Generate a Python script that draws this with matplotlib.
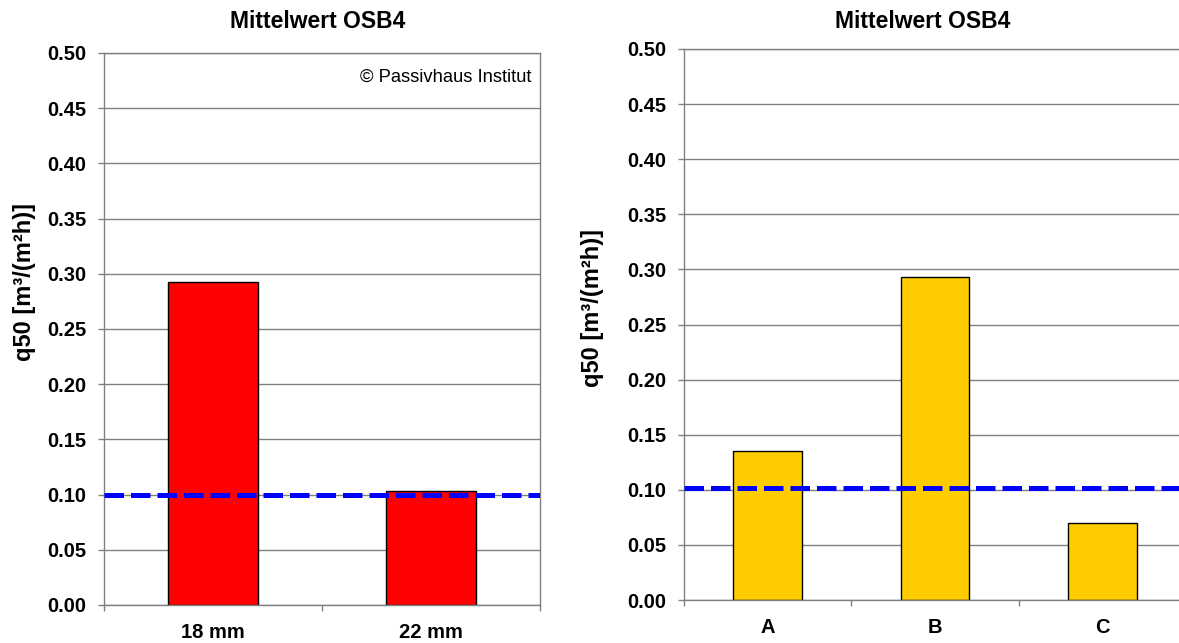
import matplotlib
matplotlib.use("Agg")
import matplotlib.pyplot as plt
import numpy as np

plt.rcParams["font.family"] = ["Liberation Sans", "DejaVu Sans"]

# data
title = "Mittelwert OSB4"
ylabel = "q50 [m³/(m²h)]"
left_cats = ["18 mm", "22 mm"]
left_vals = [0.293, 0.103]
left_ref = 0.100
right_cats = ["A", "B", "C"]
right_vals = [0.135, 0.293, 0.070]
right_ref = 0.1015
yticks = [0.00, 0.05, 0.10, 0.15, 0.20, 0.25, 0.30, 0.35, 0.40, 0.45, 0.50]

W, H = 1179, 643
fig = plt.figure(figsize=(W / 100, H / 100), dpi=100)


def px_axes(x0, y0, x1, y1):
    return fig.add_axes([x0 / W, 1 - y1 / H, (x1 - x0) / W, (y1 - y0) / H])


def style(ax, cats, vals, ref, color):
    n = len(cats)
    x = np.arange(n)
    ax.bar(x, vals, width=0.41, color=color, edgecolor="black", linewidth=1.0, zorder=2)
    ax.axhline(ref, color="#0000FF", linewidth=3.6, dashes=(3.9, 1.4), zorder=3)
    ax.set_xlim(-0.5, n - 0.5)
    ax.set_ylim(0, 0.5)
    ax.set_yticks(yticks)
    ax.set_yticklabels([f"{v:.2f}" for v in yticks])
    ax.yaxis.grid(True, color="#808080", linewidth=1.0, zorder=0)
    ax.set_axisbelow(True)
    ax.set_xticks(x)
    ax.set_xticklabels(cats)
    ax.set_xticks(np.arange(n + 1) - 0.5, minor=True)
    ax.tick_params(axis="x", which="major", length=0, pad=13)
    ax.tick_params(axis="x", which="minor", length=4.5, color="#808080", width=1.0)
    ax.tick_params(axis="y", length=4.5, color="#808080", width=1.0, pad=8)
    for lab in ax.get_xticklabels() + ax.get_yticklabels():
        lab.set_fontsize(14.5)
        lab.set_fontweight("bold")
    for sp in ax.spines.values():
        sp.set_color("#808080")
        sp.set_linewidth(1.0)


ax1 = px_axes(104, 53, 540, 605)
style(ax1, left_cats, left_vals, left_ref, "#FF0000")
ax1.text(0.98, 0.972, "© Passivhaus Institut", transform=ax1.transAxes,
         ha="right", va="top", fontsize=13.2)

ax2 = px_axes(684, 49, 1186, 600)
style(ax2, right_cats, right_vals, right_ref, "#FFCC00")

fig.text(318 / W, 1 - 21 / H, title, ha="center", va="center",
         fontsize=16.5, fontweight="bold")
fig.text(923 / W, 1 - 21 / H, title, ha="center", va="center",
         fontsize=16.5, fontweight="bold")
fig.text(25 / W, 1 - 282 / H, ylabel, rotation=90, ha="center", va="center",
         fontsize=17, fontweight="bold")
fig.text(593 / W, 1 - 308 / H, ylabel, rotation=90, ha="center", va="center",
         fontsize=17, fontweight="bold")

fig.savefig("out.png", dpi=100)
